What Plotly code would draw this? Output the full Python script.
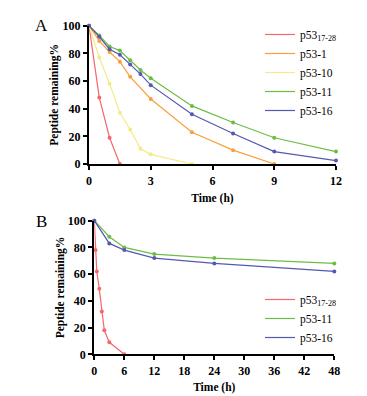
import plotly.graph_objects as go

# Panel A data
tA_red = [0, 0.5, 1, 1.5]
yA_red = [100, 48, 19, 0]
tA_orange = [0, 0.5, 1, 1.5, 2, 3, 5, 7, 9]
yA_orange = [100, 89, 81, 74, 63, 47, 23, 10, 0]
tA_yellow = [0, 0.5, 1, 1.5, 2, 2.5, 3, 5]
yA_yellow = [100, 77, 58, 37, 25, 11, 7, 0]
tA_green = [0, 0.5, 1, 1.5, 2, 2.5, 3, 5, 7, 9, 12]
yA_green = [100, 93, 85, 82, 75, 68, 62, 42, 30, 19, 9]
tA_blue = [0, 0.5, 1, 1.5, 2, 2.5, 3, 5, 7, 9, 12]
yA_blue = [100, 92, 83, 79, 72, 65, 57, 36, 22, 9, 2.5]

# Panel B data
tB_red = [0, 0.25, 0.5, 1, 1.5, 2, 3, 6]
yB_red = [100, 78, 62, 49, 32, 18, 9, 0]
tB_green = [0, 3, 6, 12, 24, 48]
yB_green = [100, 88, 80, 75, 72, 68]
tB_blue = [0, 3, 6, 12, 24, 48]
yB_blue = [100, 83, 78, 72, 68, 62]

xticksA = [0, 3, 6, 9, 12]
xticksB = [0, 6, 12, 18, 24, 30, 36, 42, 48]
yticks = [0, 20, 40, 60, 80, 100]

RED = "#f4676b"
ORANGE = "#f7a03c"
YELLOW = "#f3ec86"
GREEN = "#6dbd44"
BLUE = "#5558b3"

# body margin removed via post_script, so the figure fills the window
OFF = 0
FW, FH = 367, 396
FONT = "Liberation Serif"


def px(x):
    return (x - OFF) / FW


def py(y):
    return 1 - (y - OFF) / FH


fig = go.Figure()


def add(x, y, name, color, xa, ya, legend):
    fig.add_trace(go.Scatter(
        x=x, y=y, name=name, mode="lines+markers",
        line=dict(color=color, width=1.2),
        marker=dict(color=color, size=4, symbol="circle"),
        xaxis=xa, yaxis=ya, showlegend=False, cliponaxis=False,
    ))
    fig.add_trace(go.Scatter(
        x=[None], y=[None], name=name, mode="lines",
        line=dict(color=color, width=1.2),
        xaxis=xa, yaxis=ya, legend=legend, showlegend=True,
    ))


add(tA_red, yA_red, "p53<sub>17-28</sub>", RED, "x", "y", "legend")
add(tA_orange, yA_orange, "p53-1", ORANGE, "x", "y", "legend")
add(tA_yellow, yA_yellow, "p53-10", YELLOW, "x", "y", "legend")
add(tA_green, yA_green, "p53-11", GREEN, "x", "y", "legend")
add(tA_blue, yA_blue, "p53-16", BLUE, "x", "y", "legend")

add(tB_red, yB_red, "p53<sub>17-28</sub>", RED, "x2", "y2", "legend2")
add(tB_green, yB_green, "p53-11", GREEN, "x2", "y2", "legend2")
add(tB_blue, yB_blue, "p53-16", BLUE, "x2", "y2", "legend2")

axis_common = dict(
    showline=True, linecolor="black", linewidth=2.2, mirror=False,
    ticks="outside", ticklen=4, tickwidth=2, tickcolor="black",
    showgrid=False, zeroline=False, automargin=False,
    tickfont=dict(family=FONT, size=12, color="black", weight="bold"),
    fixedrange=True,
)
title_font = dict(family=FONT, size=11.5, color="black", weight="bold")
legend_font = dict(family=FONT, size=11.5, color="black")

fig.update_layout(
    width=FW, height=FH,
    margin=dict(l=0, r=0, t=0, b=0),
    paper_bgcolor="white", plot_bgcolor="white",
    showlegend=True,
    xaxis=dict(domain=[px(89), px(336)], range=[0, 12], tickvals=xticksA,
               anchor="y", title=dict(text="Time (h)", font=title_font, standoff=7),
               **axis_common),
    yaxis=dict(domain=[py(164), py(25.7)], range=[0, 100], tickvals=yticks,
               anchor="x", title=dict(text="Peptide remaining%", font=title_font, standoff=1),
               **axis_common),
    xaxis2=dict(domain=[px(94.3), px(334.3)], range=[0, 48], tickvals=xticksB,
                anchor="y2", title=dict(text="Time (h)", font=title_font, standoff=6),
                **axis_common),
    yaxis2=dict(domain=[py(354.3), py(220.7)], range=[0, 100], tickvals=yticks,
                anchor="x2", title=dict(text="Peptide remaining%", font=title_font, standoff=1),
                **axis_common),
    legend=dict(x=px(260), y=py(20), xanchor="left", yanchor="top",
                font=legend_font, bgcolor="rgba(0,0,0,0)", itemwidth=30, tracegroupgap=0),
    legend2=dict(x=px(260), y=py(285), xanchor="left", yanchor="top",
                 font=legend_font, bgcolor="rgba(0,0,0,0)", itemwidth=30, tracegroupgap=0),
    annotations=[
        dict(text="A", x=px(41.7), y=py(25), xref="paper", yref="paper",
             showarrow=False, xanchor="center", yanchor="middle",
             font=dict(family=FONT, size=17, color="black")),
        dict(text="B", x=px(41), y=py(221.7), xref="paper", yref="paper",
             showarrow=False, xanchor="center", yanchor="middle",
             font=dict(family=FONT, size=17, color="black")),
    ],
)

fig.write_html(
    "out.html",
    config={"displayModeBar": False},
    post_script="document.body.style.margin='0px';document.body.style.overflow='hidden';",
)
